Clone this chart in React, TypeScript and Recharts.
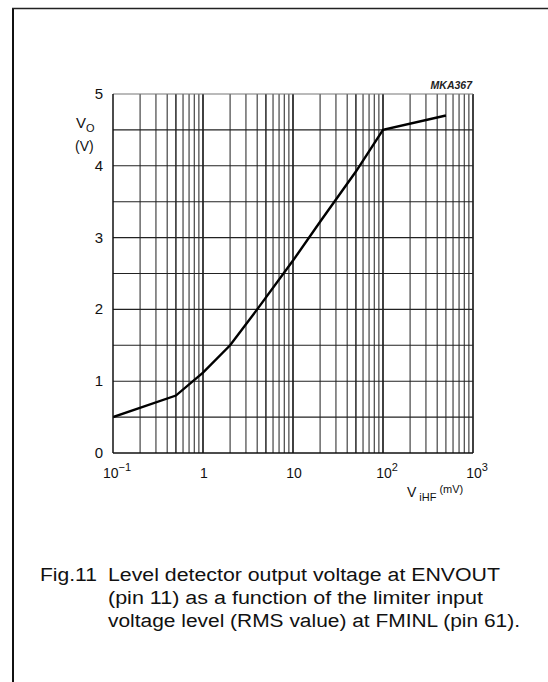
import React from 'react';
import { LineChart, Line, XAxis, YAxis, ReferenceLine } from 'recharts';

// Curve: V_iHF (mV) -> Vo (V)
const inputMv = [0.1, 0.5, 1, 2, 4, 10, 20, 50, 100, 500];
const outputV = [0.5, 0.8, 1.12, 1.5, 2.0, 2.68, 3.22, 3.92, 4.5, 4.7];

const xTicks = [0.1, 1, 10, 100, 1000];
const xTickLabels = [
  { base: '10', exp: '\u22121' },
  { base: '1', exp: '' },
  { base: '10', exp: '' },
  { base: '10', exp: '2' },
  { base: '10', exp: '3' },
];
const yTicks = [0, 1, 2, 3, 4, 5];
const yGridValues = [0.5, 1, 1.5, 2, 2.5, 3, 3.5, 4, 4.5, 5];
const decadeStarts = [0.1, 1, 10, 100];
const minorMultipliers = [2, 3, 4, 5, 6, 7, 8, 9, 10];

const captionLines = [
  'Level detector output voltage at ENVOUT',
  '(pin 11) as a function of the limiter input',
  'voltage level (RMS value) at FMINL (pin 61).',
];

const data = inputMv.map((x, i) => ({ x, y: outputV[i] }));
const xGridValues = decadeStarts.flatMap((d) => minorMultipliers.map((m) => +(d * m).toPrecision(3)));

const FONT = '"Liberation Sans", Arial, Helvetica, sans-serif';

const XTick = (props: any) => {
  const { x, y, payload } = props;
  const idx = xTicks.indexOf(payload.value);
  const lbl = xTickLabels[idx] || { base: String(payload.value), exp: '' };
  return (
    <text x={x + (lbl.exp ? 4 : 1)} y={y + 17} textAnchor="middle" fontFamily={FONT} fontSize={14} fill="#111">
      <tspan>{lbl.base}</tspan>
      {lbl.exp ? (
        <tspan dy={-7} fontSize={11}>
          {lbl.exp}
        </tspan>
      ) : null}
    </text>
  );
};

const YTick = (props: any) => {
  const { x, y, payload } = props;
  return (
    <text x={x - 2} y={y + 5} textAnchor="end" fontFamily={FONT} fontSize={15} fill="#111">
      {payload.value}
    </text>
  );
};

export default function App() {
  return (
    <div style={{ position: 'absolute', left: 0, top: 0, width: 548, height: 682, background: '#fff' }}>
      <LineChart
        width={548}
        height={682}
        data={data}
        margin={{ top: 94, right: 75, bottom: 199, left: 73 }}
      >
        <XAxis
          dataKey="x"
          type="number"
          scale="log"
          domain={[0.1, 1000]}
          allowDataOverflow
          ticks={xTicks}
          tick={<XTick />}
          tickLine={false}
          axisLine={{ stroke: '#111', strokeWidth: 1.5 }}
          height={30}
        />
        <YAxis
          type="number"
          domain={[0, 5]}
          ticks={yTicks}
          tick={<YTick />}
          tickLine={false}
          axisLine={{ stroke: '#111', strokeWidth: 1.5 }}
          width={40}
        />
        {xGridValues.map((v) => (
          <ReferenceLine
            key={'vx' + v}
            x={v}
            stroke={[1, 10, 100, 1000].includes(v) ? '#111' : '#333'}
            strokeWidth={[1, 10, 100, 1000, 0.5, 5, 50].includes(v) ? 1.6 : 1.1}
          />
        ))}
        {yGridValues.map((v) => (
          <ReferenceLine key={'hy' + v} y={v} stroke={v === 5 ? '#777' : '#222'} strokeWidth={1.1} />
        ))}
        <Line
          type="linear"
          dataKey="y"
          stroke="#000"
          strokeWidth={2.4}
          dot={false}
          isAnimationActive={false}
        />
      </LineChart>
      <svg
        width={548}
        height={682}
        style={{ position: 'absolute', left: 0, top: 0, pointerEvents: 'none' }}
      >
        <line x1={13} y1={8} x2={13} y2={682} stroke="#111" strokeWidth={2} />
        <line x1={12} y1={8.5} x2={548} y2={8.5} stroke="#222" strokeWidth={1.5} />
        <text x={472} y={89} textAnchor="end" fontFamily={FONT} fontSize={10.5} fontStyle="italic" fontWeight="bold" fill="#222">
          MKA367
        </text>
        <text x={76} y={128} fontFamily={FONT} fontSize={15} fill="#111">
          V<tspan dy={4} fontSize={11}>O</tspan>
        </text>
        <text x={75} y={151} fontFamily={FONT} fontSize={14} fill="#111">
          (V)
        </text>
        <text x={407} y={497} fontFamily={FONT} fontSize={14} fill="#111">
          V
          <tspan dx={3} dy={4} fontSize={11}>iHF</tspan>
          <tspan dx={3} dy={-8} fontSize={11}>(mV)</tspan>
        </text>
        <text x={40} y={581} fontFamily={FONT} fontSize={18} fill="#111" textLength={57} lengthAdjust="spacingAndGlyphs">
          Fig.11
        </text>
        {captionLines.map((t, i) => (
          <text
            key={i}
            x={108}
            y={581 + i * 23}
            fontFamily={FONT}
            fontSize={18}
            fill="#111"
            textLength={[392, 375, 412][i]}
            lengthAdjust="spacingAndGlyphs"
          >
            {t}
          </text>
        ))}
      </svg>
    </div>
  );
}
